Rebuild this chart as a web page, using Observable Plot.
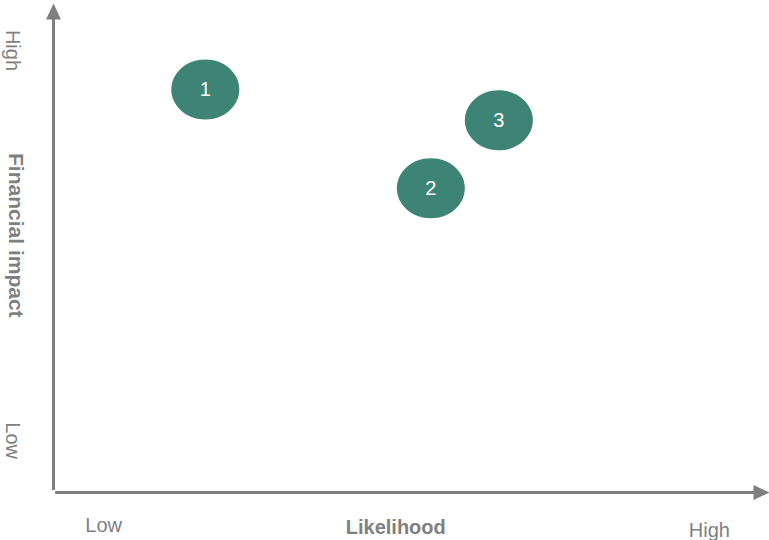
<!DOCTYPE html>
<html>
<head>
<meta charset="utf-8">
<script src="https://cdn.jsdelivr.net/npm/d3@7"></script>
<script src="https://cdn.jsdelivr.net/npm/@observablehq/plot@0.6"></script>
<style>
  html, body { margin: 0; padding: 0; background: #ffffff; }
  #chart svg { display: block; }
</style>
</head>
<body>
<div id="chart"></div>
<script>
// Data (0–100 scale on both axes)
const risks = ["1", "2", "3"];
const likelihood = [21.2, 52.7, 62.2];
const impact = [82.4, 62.2, 76.1];

const xAxisTitle = "Likelihood";
const yAxisTitle = "Financial impact";
const xLevelLabels = ["Low", "High"];
const yLevelLabels = ["Low", "High"];

const data = risks.map((id, i) => ({id, x: likelihood[i], y: impact[i]}));

const gray = "#7f7f7f";
const green = "#3d8474";

// ellipse symbol (wider than tall)
const ellipse = {
  draw(ctx, size) {
    const r = Math.sqrt(size / Math.PI);
    const rx = r, ry = r * 60 / 68, k = 0.5523;
    ctx.moveTo(rx, 0);
    ctx.bezierCurveTo(rx, k * ry, k * rx, ry, 0, ry);
    ctx.bezierCurveTo(-k * rx, ry, -rx, k * ry, -rx, 0);
    ctx.bezierCurveTo(-rx, -k * ry, -k * rx, -ry, 0, -ry);
    ctx.bezierCurveTo(k * rx, -ry, rx, -k * ry, rx, 0);
    ctx.closePath();
  }
};
// filled arrowhead pointing up
const arrowHead = {
  draw(ctx) {
    ctx.moveTo(0, -8);
    ctx.lineTo(7.5, 8);
    ctx.lineTo(-7.5, 8);
    ctx.closePath();
  }
};

const chart = Plot.plot({
  width: 769,
  height: 540,
  margin: 0,
  x: {domain: [0, 100], range: [53, 769], axis: null},
  y: {domain: [0, 100], range: [492, 3], axis: null},
  style: {fontFamily: "'Liberation Sans', Arial, sans-serif", background: "#ffffff"},
  marks: [
    // axes lines
    Plot.ruleX([0], {y1: 0.4, y2: 97, stroke: gray, strokeWidth: 3}),
    Plot.ruleY([0], {x1: 0.3, x2: 98.3, stroke: gray, strokeWidth: 3}),
    // arrowheads
    Plot.dot([{x: 0, y: (492 - 11) / 489 * 100}], {x: "x", y: "y", symbol: arrowHead, r: 8, fill: gray, stroke: null}),
    Plot.dot([{x: (761 - 53) / 716 * 100, y: 0}], {x: "x", y: "y", symbol: arrowHead, r: 8, fill: gray, stroke: null, rotate: 90}),
    // bubbles
    Plot.dot(data, {x: "x", y: "y", symbol: ellipse, r: 34, fill: green, stroke: null}),
    Plot.text(data, {x: "x", y: "y", text: "id", fill: "#ffffff", fontSize: 20}),
    // x axis labels
    Plot.text([xLevelLabels[0]], {x: 7.0, y: -6.7, text: d => d, fill: gray, fontSize: 20}),
    Plot.text([xAxisTitle], {x: 47.8, y: -7.2, text: d => d, fill: gray, fontSize: 20, fontWeight: "bold"}),
    Plot.text([xLevelLabels[1]], {x: 91.6, y: -7.8, text: d => d, fill: gray, fontSize: 20}),
    // y axis labels
    Plot.text([yLevelLabels[1]], {x: -5.7, y: 90.4, text: d => d, fill: gray, fontSize: 20, rotate: 90}),
    Plot.text([yAxisTitle], {x: -5.3, y: 52.6, text: d => d, fill: gray, fontSize: 21, fontWeight: "bold", rotate: 90}),
    Plot.text([yLevelLabels[0]], {x: -5.7, y: 10.6, text: d => d, fill: gray, fontSize: 20, rotate: 90})
  ]
});
document.getElementById("chart").appendChild(chart);
</script>
</body>
</html>
